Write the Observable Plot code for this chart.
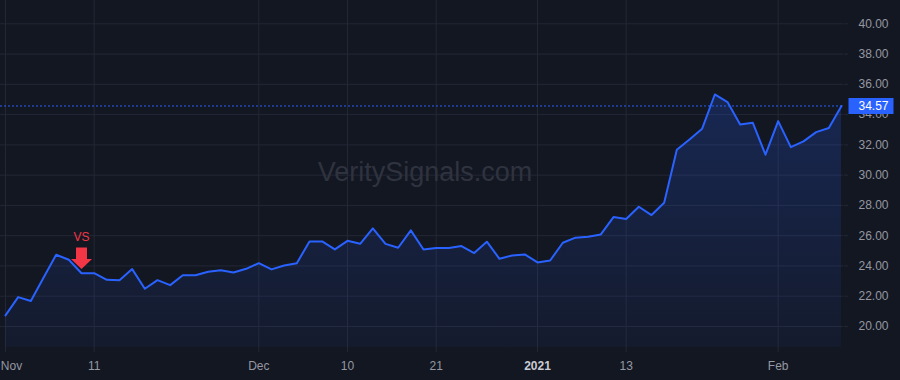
<!DOCTYPE html>
<html>
<head>
<meta charset="utf-8">
<script src="https://cdn.jsdelivr.net/npm/d3@7"></script>
<script src="https://cdn.jsdelivr.net/npm/@observablehq/plot@0.6"></script>
<style>
  html, body { margin: 0; padding: 0; background: #131722; }
  #chart svg { display: block; }
</style>
</head>
<body>
<div id="chart"></div>
<script>
// Trading days (Nov 2, 2020 – Feb 8, 2021)
const dates = [
  "2020-11-02","2020-11-03","2020-11-04","2020-11-05","2020-11-06","2020-11-09","2020-11-10","2020-11-11",
  "2020-11-12","2020-11-13","2020-11-16","2020-11-17","2020-11-18","2020-11-19","2020-11-20","2020-11-23",
  "2020-11-24","2020-11-25","2020-11-27","2020-11-30",
  "2020-12-01","2020-12-02","2020-12-03","2020-12-04","2020-12-07","2020-12-08","2020-12-09","2020-12-10",
  "2020-12-11","2020-12-14","2020-12-15","2020-12-16","2020-12-17","2020-12-18","2020-12-21","2020-12-22",
  "2020-12-23","2020-12-24","2020-12-28","2020-12-29","2020-12-30","2020-12-31",
  "2021-01-04","2021-01-05","2021-01-06","2021-01-07","2021-01-08","2021-01-11","2021-01-12","2021-01-13",
  "2021-01-14","2021-01-15","2021-01-19","2021-01-20","2021-01-21","2021-01-22","2021-01-25","2021-01-26",
  "2021-01-27","2021-01-28","2021-01-29",
  "2021-02-01","2021-02-02","2021-02-03","2021-02-04","2021-02-05","2021-02-08"
];
const closes = [
  20.73, 21.94, 21.68, 23.22, 24.74, 24.41, 23.52, 23.52,
  23.08, 23.06, 23.79, 22.49, 23.06, 22.73, 23.39, 23.39,
  23.61, 23.72, 23.57, 23.81,
  24.18, 23.77, 24.03, 24.18, 25.62, 25.62, 25.09, 25.66,
  25.46, 26.48, 25.46, 25.20, 26.35, 25.09, 25.18, 25.18,
  25.31, 24.85, 25.60, 24.47, 24.69, 24.76,
  24.23, 24.36, 25.53, 25.87, 25.93, 26.08, 27.23, 27.10,
  27.91, 27.36, 28.18, 31.68, 32.36, 33.07, 35.33, 34.83,
  33.35, 33.46, 31.35,
  33.57, 31.85, 32.23, 32.84, 33.11, 34.57
];
const tickDates = ["2020-11-02","2020-11-11","2020-12-01","2020-12-10","2020-12-21","2021-01-04","2021-01-13","2021-02-01"];
const tickLabels = ["Nov","11","Dec","10","21","2021","13","Feb"];
const yearTick = "2021-01-04";
const yTicks = [20, 22, 24, 26, 28, 30, 32, 34, 36, 38, 40];
const signalDate = "2020-11-10";
const signalLabel = "VS";
const watermark = "VeritySignals.com";

// Build table
const data = dates.map((d, i) => ({i, date: d, close: closes[i]}));
const last = data[data.length - 1];
const signal = data.find(d => d.date === signalDate);
const tickIdx = tickDates.map(d => dates.indexOf(d));
const labelOf = new Map(tickIdx.map((k, j) => [k, tickLabels[j]]));
const yearIdx = dates.indexOf(yearTick);
const firstIdx = tickIdx[0];

const yLo = 18.61, yHi = 41.54;
const grid = "#232735";
const blue = "#2962FF";
const red = "#F23645";
const textColor = "#9598a1";

const arrowSymbol = {
  draw(ctx, size) {
    const s = Math.sqrt(size / Math.PI) / 10;
    ctx.moveTo(-5.5 * s, -10.8 * s);
    ctx.lineTo(5.5 * s, -10.8 * s);
    ctx.lineTo(5.5 * s, 0.8 * s);
    ctx.lineTo(10.5 * s, 0.8 * s);
    ctx.lineTo(0, 10.8 * s);
    ctx.lineTo(-10.5 * s, 0.8 * s);
    ctx.lineTo(-5.5 * s, 0.8 * s);
    ctx.closePath();
  }
};
const boxSymbol = {
  draw(ctx, size) {
    const s = Math.sqrt(size / Math.PI) / 10;
    ctx.rect(-22.5 * s, -8 * s, 45 * s, 16 * s);
  }
};

const xAxisOpts = {anchor: "bottom", label: null, tickSize: 5, tickPadding: 9, stroke: grid, fill: textColor, fontSize: 12};

const chart = Plot.plot({
  width: 900,
  height: 380,
  marginLeft: 0,
  marginRight: 57,
  marginTop: 0,
  marginBottom: 33,
  style: {background: "#131722", color: textColor, fontFamily: "'Liberation Sans', Arial, sans-serif", fontSize: "12px"},
  x: {domain: [0, dates.length - 1], range: [5, 841], axis: null, label: null},
  y: {domain: [yLo, yHi], axis: null, label: null},
  marks: [
    Plot.gridY(yTicks, {stroke: grid, strokeOpacity: 1}),
    Plot.gridX(tickIdx, {stroke: grid, strokeOpacity: 1}),
    Plot.text([watermark], {frameAnchor: "middle", dx: 3, dy: -2, fontSize: 27, fill: "#2f333f"}),
    Plot.areaY(data, {x: "i", y1: yLo, y2: "close", fill: "url(#areaGrad)"}),
    Plot.lineY(data, {x: "i", y: "close", stroke: blue, strokeWidth: 2}),
    Plot.ruleY([last.close], {stroke: blue, strokeDasharray: "2,2", strokeWidth: 1}),
    Plot.axisY(yTicks, {anchor: "right", label: null, tickSize: 4, tickPadding: 11, tickFormat: d => d.toFixed(2), stroke: grid, fill: textColor, fontSize: 12}),
    // tick marks + regular labels
    Plot.axisX(tickIdx, {...xAxisOpts, tickFormat: d => (d === yearIdx || d === firstIdx) ? "" : labelOf.get(d)}),
    // first label nudged right so it stays inside the frame
    Plot.axisX([firstIdx], {...xAxisOpts, tickSize: 0, tickPadding: 14, dx: 6, tickFormat: d => labelOf.get(d)}),
    // year label in bold
    Plot.axisX([yearIdx], {...xAxisOpts, tickSize: 0, tickPadding: 14, fill: "#c9ccd4", fontWeight: "bold", tickFormat: d => labelOf.get(d)}),
    Plot.dot([last], {x: "i", y: "close", dx: 29.5, r: 10, symbol: boxSymbol, fill: blue, stroke: "none"}),
    Plot.text([last], {x: "i", y: "close", dx: 17, text: d => d.close.toFixed(2), textAnchor: "start", fill: "#ffffff", fontSize: 12}),
    Plot.dot([signal], {x: "i", y: "close", dy: -15, r: 10, symbol: arrowSymbol, fill: red, stroke: "none"}),
    Plot.text([signal], {x: "i", y: "close", dy: -36, text: () => signalLabel, fill: red, fontSize: 12})
  ]
});

// gradient definition for the area fill
const defs = d3.create("svg:defs");
const lg = defs.append("linearGradient").attr("id", "areaGrad").attr("x1", 0).attr("y1", 0).attr("x2", 0).attr("y2", 1);
lg.append("stop").attr("offset", "0%").attr("stop-color", blue).attr("stop-opacity", 0.22);
lg.append("stop").attr("offset", "100%").attr("stop-color", blue).attr("stop-opacity", 0.05);
chart.insertBefore(defs.node(), chart.firstChild);

document.getElementById("chart").appendChild(chart);
</script>
</body>
</html>
